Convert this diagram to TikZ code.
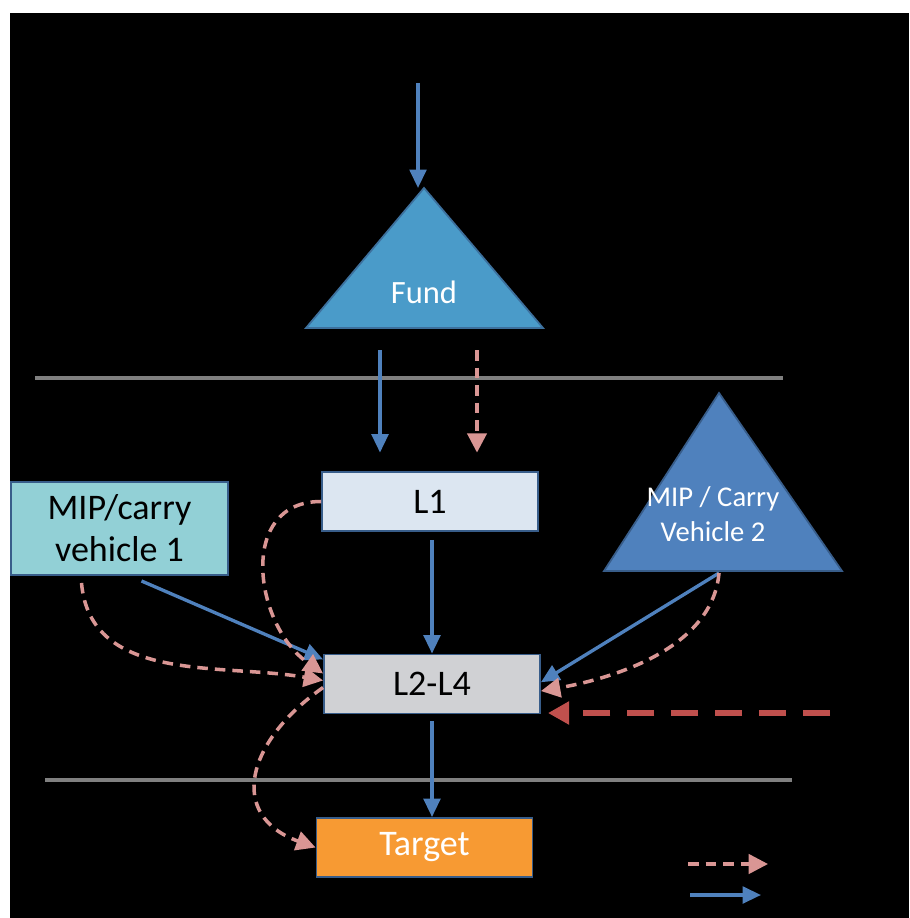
\documentclass[tikz,border=0pt]{standalone}
\usepackage{fontspec}
\setmainfont{Carlito}
\usetikzlibrary{arrows.meta}

\definecolor{fundblue}{RGB}{74,155,201}
\definecolor{vehblue}{RGB}{79,129,189}
\definecolor{edgeblue}{RGB}{56,93,138}
\definecolor{flowblue}{RGB}{79,129,189}
\definecolor{carrypink}{RGB}{217,150,148}
\definecolor{extred}{RGB}{192,80,77}
\definecolor{lonefill}{RGB}{220,230,241}
\definecolor{ltwofill}{RGB}{208,209,212}
\definecolor{mipfill}{RGB}{146,208,214}
\definecolor{targetfill}{RGB}{247,154,51}
\definecolor{tiergray}{RGB}{128,128,128}

\begin{document}
\begin{tikzpicture}[x=0.02cm, y=0.02cm,
    box/.style={draw=edgeblue, line width=1.1pt, minimum width=4.32cm, minimum height=1.18cm, inner sep=0pt, font=\fontsize{20.5}{24}\selectfont},
    flow/.style={draw=flowblue, line width=1.9pt, -{Triangle[length=10.5pt,width=9.5pt]}},
    carry/.style={draw=carrypink, line width=2pt, dash pattern=on 6pt off 4pt, -{Triangle[length=11pt,width=11pt]}},
    extra/.style={draw=extred, line width=3.8pt, dash pattern=on 15.5pt off 9.5pt, -{Triangle[length=12pt,width=12.5pt]}},
    tier/.style={tiergray, line width=2.8pt},
    tri/.style={line width=1pt, line join=miter}]

        % Page and dark background
        \fill[white] (0,0) rectangle (909,-918);
        \fill[black] (10,-13) rectangle (909,-918);

        % Tier separators
        \draw[tier] (35,-378) -- (783,-378);
        \draw[tier] (45,-780) -- (792,-780);

        % Fund triangle
        \coordinate (fundtop) at (424,-188);
        \filldraw[tri, fill=fundblue, draw=edgeblue!70!fundblue] (fundtop) -- (543,-328) -- (306,-328) -- cycle;
        \node[text=white, font=\fontsize{18.5}{22}\selectfont] (fund) at (424,-292) {Fund};

        % Second carry vehicle triangle
        \coordinate (mip2out) at (719,-573);
        \filldraw[tri, fill=vehblue, draw=edgeblue] (719,-393) -- (842,-571) -- (604,-571) -- cycle;
        \node[text=white, align=center, font=\fontsize{16.3}{19.6}\selectfont] (mip2) at (713,-514) {MIP / Carry\\Vehicle 2};

        % Boxes
        \node[box, fill=lonefill] (l1) at (430,-501.5) {L1};
        \node[box, fill=ltwofill] (l24) at (432,-684) {L2-L4};
        \node[box, fill=targetfill, text=white] (target) at (424.5,-847.5) {Target};
        \node[box, fill=mipfill, align=center, minimum width=4.34cm, minimum height=1.86cm] (mip1) at (119.5,-528.5) {MIP/carry\\vehicle 1};

        % Free ends
        \coordinate (fundin) at (418,-83);
        \coordinate (fundl) at (380,-350);
        \coordinate (fundr) at (477,-350);
        \coordinate (ext) at (830,-713);

        % Main flows
        \draw[flow] (fundin) -- (fundin |- fundtop);
        \draw[flow, shorten >=10.5pt] (fundl) -- (fundl |- l1.north);
        \draw[carry, shorten >=10.5pt] (fundr) -- (fundr |- l1.north);
        \draw[flow, shorten <=4.5pt] (l1.south -| l24.north) -- (l24.north);
        \draw[flow, shorten <=4pt] (l24.south) -- (l24.south |- target.north);

        % Carry vehicle flows
        \draw[flow] ([shift={(22,-5)}]mip1.south) -- ([yshift=14]l24.west);
        \draw[carry] ([shift={(-38,-7)}]mip1.south) to[out=-85, in=170] ([yshift=2]l24.west);
        \draw[carry] (l1.west) to[out=180, in=145, looseness=1.25] ([yshift=6]l24.west);
        \draw[carry] ([yshift=-2]l24.west) to[out=215, in=160, looseness=1.5] (target.west);
        \draw[flow] (mip2out) -- ([yshift=1]l24.east);
        \draw[carry] (mip2out) to[out=-95, in=10, looseness=0.9] ([yshift=-4]l24.east);

        % Outside flow
        \draw[extra, shorten >=4pt] (ext) -- (ext -| l24.east);

        % Key
        \coordinate (carrykey) at (688,-864);
        \coordinate (carrykeyend) at (768,-864);
        \coordinate (flowkey) at (690,-895);
        \coordinate (flowkeyend) at (761,-895);
        \draw[carry] (carrykey) -- (carrykeyend);
        \draw[flow] (flowkey) -- (flowkeyend);

\end{tikzpicture}
\end{document}
